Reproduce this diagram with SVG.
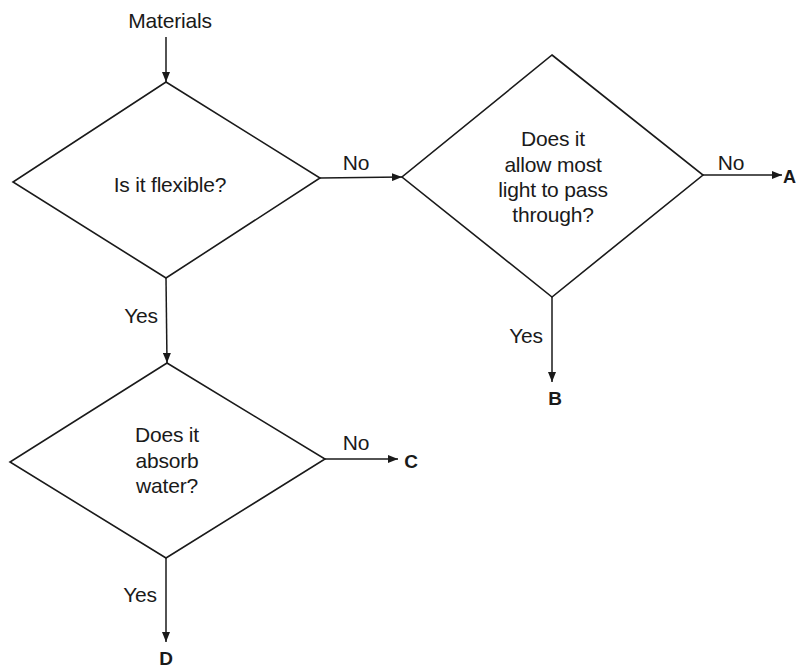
<svg xmlns="http://www.w3.org/2000/svg" width="796" height="670" viewBox="0 0 796 670">
<defs>
<marker id="ah" viewBox="0 0 10 8" refX="10" refY="4" markerWidth="10" markerHeight="8" markerUnits="userSpaceOnUse" orient="auto">
<path d="M0,0 L10,4 L0,8 Z" fill="#1a1a1a"/>
</marker>
<style>
.shape{fill:none;stroke:#1a1a1a;stroke-width:1.6;stroke-linejoin:miter}
.conn{fill:none;stroke:#1a1a1a;stroke-width:1.5;marker-end:url(#ah)}
.t{font-family:"Liberation Sans",Arial,sans-serif;font-size:21px;fill:#1a1a1a;text-anchor:middle;letter-spacing:-0.2px}
.lbl{font-family:"Liberation Sans",Arial,sans-serif;font-size:21px;fill:#1a1a1a;text-anchor:middle;letter-spacing:-0.2px}
.end{font-family:"Liberation Sans",Arial,sans-serif;font-size:19px;font-weight:bold;fill:#1a1a1a;text-anchor:middle}
</style>
</defs>
<rect width="796" height="670" fill="#ffffff"/>
<g id="start"><text class="t" x="170" y="28">Materials</text></g>
<g id="d1">
<polygon class="shape" points="166,82 320,178 166,278 13,182"/>
<text class="t" x="170" y="192">Is it flexible?</text>
</g>
<g id="d2">
<polygon class="shape" points="552,55 703,175 552,297 402,177"/>
<text class="t" x="553" y="146">Does it</text>
<text class="t" x="553" y="172">allow most</text>
<text class="t" x="553" y="197">light to pass</text>
<text class="t" x="553" y="222">through?</text>
</g>
<g id="d3">
<polygon class="shape" points="167,363 325,459 166,558 10,462"/>
<text class="t" x="167" y="442">Does it</text>
<text class="t" x="167" y="468">absorb</text>
<text class="t" x="167" y="493">water?</text>
</g>
<g id="outA"><text class="end" x="783" y="183" style="text-anchor:start;font-size:18px">A</text></g>
<g id="outB"><text class="end" x="555" y="405">B</text></g>
<g id="outC"><text class="end" x="411" y="468">C</text></g>
<g id="outD"><text class="end" x="166" y="665">D</text></g>
<g id="connectors">
<line class="conn" x1="166" y1="37" x2="166" y2="82"/>
<line class="conn" x1="320" y1="178" x2="402" y2="177"/>
<line class="conn" x1="703" y1="175" x2="782" y2="175"/>
<line class="conn" x1="552" y1="297" x2="552" y2="382"/>
<line class="conn" x1="166" y1="278" x2="167" y2="363"/>
<line class="conn" x1="325" y1="459" x2="398" y2="459"/>
<line class="conn" x1="166" y1="558" x2="166" y2="642"/>
<text class="lbl" x="356" y="170">No</text>
<text class="lbl" x="731" y="170">No</text>
<text class="lbl" x="526" y="343">Yes</text>
<text class="lbl" x="141" y="323">Yes</text>
<text class="lbl" x="356" y="450">No</text>
<text class="lbl" x="140" y="602">Yes</text>
</g>
</svg>
